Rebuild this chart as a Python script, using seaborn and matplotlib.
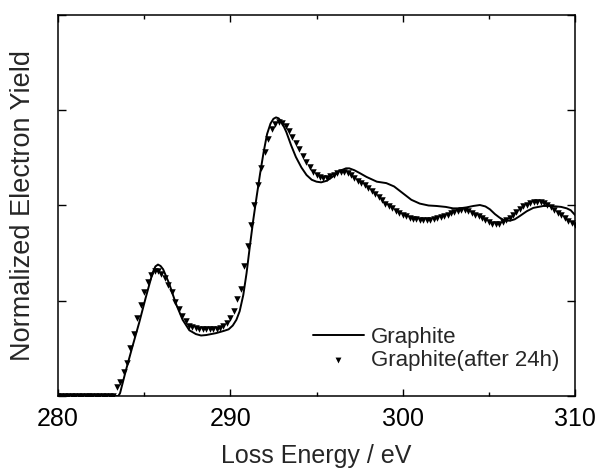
import numpy as np
import matplotlib
matplotlib.use('Agg')
import matplotlib.pyplot as plt
import seaborn as sns

# Graphite (solid line)
graphite_e = [280.0, 283.5, 283.6, 283.94, 284.32, 284.71, 285.1, 285.48, 285.65, 285.8,
              285.95, 286.1, 286.45, 286.84, 287.23, 287.62, 288.0, 288.3, 288.6, 289.17,
              289.65, 289.9, 290.14, 290.35, 290.54, 290.75, 290.94, 291.13, 291.33, 291.53,
              291.73, 291.93, 292.13, 292.33, 292.5, 292.65, 292.8, 293.0, 293.25, 293.53,
              293.8, 294.12, 294.42, 294.72, 295.0, 295.27, 295.6, 295.92, 296.3, 296.71,
              296.9, 297.2, 297.51, 297.9, 298.5, 299.05, 299.5, 300.0, 300.5, 300.99,
              301.5, 301.96, 302.5, 302.92, 303.3, 303.7, 304.1, 304.48, 304.8, 305.06,
              305.35, 305.64, 305.9, 306.22, 306.5, 306.8, 307.2, 307.58, 308.16, 308.5,
              308.93, 309.2, 309.52, 309.75, 310.0]
graphite_y = [0.0, 0.0, 0.03, 0.27, 0.52, 0.77, 1.04, 1.29, 1.36, 1.38,
              1.365, 1.33, 1.18, 0.97, 0.80, 0.69, 0.65, 0.635, 0.64, 0.66,
              0.685, 0.70, 0.74, 0.80, 0.89, 1.06, 1.29, 1.57, 1.85, 2.10,
              2.34, 2.56, 2.75, 2.86, 2.91, 2.925, 2.915, 2.87, 2.77, 2.63,
              2.51, 2.40, 2.32, 2.27, 2.25, 2.243, 2.26, 2.30, 2.36, 2.39,
              2.39, 2.37, 2.34, 2.30, 2.25, 2.235, 2.20, 2.13, 2.06, 2.02,
              2.00, 1.995, 1.985, 1.97, 1.97, 1.98, 1.995, 2.005, 1.99, 1.96,
              1.91, 1.87, 1.845, 1.84, 1.855, 1.89, 1.94, 1.975, 1.995, 1.995,
              1.99, 1.985, 1.97, 1.95, 1.90]

# Graphite after 24h (triangles), sampled every 0.2 eV from 280.0 eV
aged_start, aged_step = 280.0, 0.2
aged_y = [0.0] * 17 + [
    0.09, 0.15, 0.25, 0.35, 0.50, 0.65, 0.82, 0.96, 1.09, 1.20,
    1.27, 1.31, 1.31, 1.28, 1.235, 1.17, 1.095, 0.99, 0.91, 0.84,
    0.785, 0.74, 0.72, 0.71, 0.70, 0.70, 0.70, 0.70, 0.70, 0.70,
    0.71, 0.73, 0.77, 0.82, 0.89, 1.02, 1.12, 1.36, 1.57, 1.79,
    2.01, 2.21, 2.39, 2.56, 2.70, 2.80, 2.86, 2.88, 2.87, 2.83,
    2.78, 2.72, 2.655, 2.59, 2.52, 2.455, 2.40, 2.35, 2.315, 2.295,
    2.285, 2.29, 2.305, 2.32, 2.34, 2.35, 2.355, 2.345, 2.32, 2.29,
    2.26, 2.24, 2.21, 2.18, 2.15, 2.12, 2.09, 2.06, 2.02, 1.995,
    1.97, 1.94, 1.92, 1.90, 1.885, 1.87, 1.86, 1.855, 1.85, 1.85,
    1.85, 1.85, 1.86, 1.865, 1.875, 1.885, 1.90, 1.92, 1.935, 1.945,
    1.95, 1.95, 1.94, 1.925, 1.905, 1.885, 1.865, 1.845, 1.825, 1.81,
    1.805, 1.81, 1.825, 1.845, 1.87, 1.90, 1.935, 1.965, 1.99, 2.01,
    2.03, 2.04, 2.04, 2.035, 2.025, 2.01, 1.985, 1.955, 1.925, 1.895,
    1.865, 1.84, 1.815, 1.79]
aged_e = np.round(aged_start + aged_step * np.arange(len(aged_y)), 2)

xticks = [280, 290, 300, 310]

sns.set_style('ticks')
plt.rcParams['font.family'] = ['Liberation Sans', 'DejaVu Sans']

fig = plt.figure(figsize=(6.0, 4.73), dpi=100)
ax = fig.add_axes([0.0967, 0.1628, 0.8617, 0.8055])

sns.lineplot(x=graphite_e, y=graphite_y, ax=ax, color='black', linewidth=1.4,
             label='Graphite', sort=False)
sns.scatterplot(x=aged_e, y=aged_y, ax=ax, marker='v', color='black', s=22,
                linewidth=0, label='Graphite(after 24h)', zorder=3)

ax.set_xlim(280, 310)
ax.set_ylim(0, 4)
ax.set_xticks(xticks)
ax.set_xticks([285, 295, 305], minor=True)
ax.set_yticks([0, 1, 2, 3, 4])
ax.set_yticklabels([])
ax.tick_params(axis='both', which='both', direction='in', top=True, right=True,
               colors='black', width=1.0)
ax.tick_params(axis='x', which='major', length=5, labelsize=18, pad=8)
ax.tick_params(axis='x', which='minor', length=3)
ax.tick_params(axis='y', which='major', length=6)
for sp in ax.spines.values():
    sp.set_visible(True)
    sp.set_linewidth(1.1)
    sp.set_color('black')

ax.set_xlabel('Loss Energy / eV', fontsize=18, labelpad=9)
ax.set_ylabel('Normalized Electron Yield', fontsize=19.5, labelpad=12)

ax.legend(loc='lower left', bbox_to_anchor=(0.493, 0.065), frameon=False,
          fontsize=16, handlelength=2.3, handletextpad=0.3, labelspacing=0.1,
          borderpad=0, borderaxespad=0, markerscale=0.9)

fig.savefig('out.png', dpi=100)
